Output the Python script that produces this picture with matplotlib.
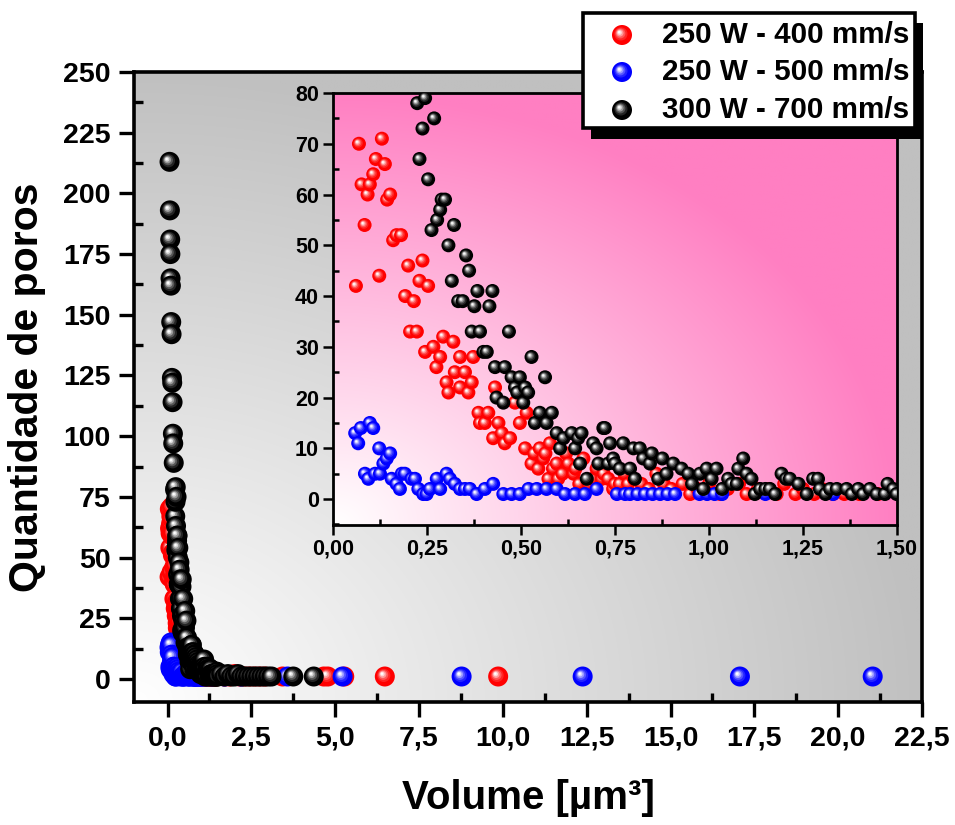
import numpy as np
import matplotlib
matplotlib.use("Agg")
import matplotlib.pyplot as plt
import matplotlib.colors as mcolors
from matplotlib.patches import Rectangle
from matplotlib.ticker import MultipleLocator, FuncFormatter

plt.rcParams['font.family'] = ['Liberation Sans', 'DejaVu Sans']
plt.rcParams['font.weight'] = 'bold'

# ---------------------------------------------------------------- data
labels = ['250 W - 400 mm/s', '250 W - 500 mm/s', '300 W - 700 mm/s']
colors = ['#ff0000', '#0000ff', '#000000']

# 250 W - 400 mm/s : pore volume [um^3] and number of pores
vol_400 = [
    0.061, 0.069, 0.076, 0.084, 0.092, 0.098, 0.107, 0.114, 0.123, 0.130,
    0.138, 0.144, 0.152, 0.160, 0.169, 0.181, 0.192, 0.200, 0.205, 0.215,
    0.223, 0.230, 0.238, 0.245, 0.253, 0.267, 0.275, 0.285, 0.293, 0.302,
    0.307, 0.320, 0.324, 0.338, 0.338, 0.351, 0.360, 0.369, 0.373, 0.387,
    0.391, 0.404, 0.413, 0.426, 0.431, 0.440, 0.449, 0.457, 0.471, 0.484,
    0.497, 0.511, 0.515, 0.528, 0.535, 0.546, 0.550, 0.559, 0.565, 0.573,
    0.577, 0.585, 0.595, 0.599, 0.610, 0.620, 0.626, 0.640, 0.645, 0.655,
    0.666, 0.680, 0.690, 0.701, 0.715, 0.720, 0.732, 0.745, 0.750, 0.763,
    0.775, 0.785, 0.800, 0.820, 0.840, 0.860, 0.880, 0.900, 0.930, 0.950,
    0.970, 1.000, 1.030, 1.050, 1.080, 1.100, 1.130, 1.160, 1.180, 1.200,
    1.230, 1.250, 1.280, 1.300, 1.330, 1.360, 1.400, 1.450, 1.550, 1.700,
    1.850, 2.000, 2.150, 2.300, 2.450, 2.600, 2.750, 2.900, 3.430, 4.660,
    4.780, 5.270, 6.480, 9.860]
count_400 = [
    42, 70, 62, 54, 60, 62, 64, 67, 44, 71,
    66, 59, 60, 51, 52, 52, 40, 46, 33, 39,
    33, 43, 47, 29, 42, 30, 26, 28, 32, 23,
    21, 31, 25, 22, 28, 25, 21, 23, 28, 17,
    15, 15, 17, 12, 22, 15, 13, 11, 12, 19,
    15, 10, 17, 7, 9, 6, 10, 8, 9, 4,
    11, 6, 7, 4, 5, 9, 7, 5, 6, 3,
    8, 3, 4, 6, 4, 5, 4, 2, 3, 3,
    5, 3, 4, 3, 2, 5, 3, 2, 3, 1,
    2, 3, 1, 2, 3, 1, 2, 2, 1, 3,
    1, 2, 1, 2, 1, 1, 1, 1, 2, 1,
    1, 2, 1, 1, 1, 1, 1, 1, 1, 1,
    1, 1, 1, 1]

# 250 W - 500 mm/s
vol_500 = [
    0.059, 0.067, 0.074, 0.085, 0.094, 0.098, 0.107, 0.112, 0.123, 0.125,
    0.134, 0.143, 0.152, 0.156, 0.169, 0.178, 0.183, 0.191, 0.209, 0.218,
    0.227, 0.240, 0.249, 0.258, 0.276, 0.285, 0.302, 0.311, 0.324, 0.338,
    0.351, 0.364, 0.382, 0.404, 0.426, 0.453, 0.475, 0.497, 0.520, 0.542,
    0.568, 0.595, 0.617, 0.644, 0.670, 0.701, 0.755, 0.777, 0.790, 0.810,
    0.830, 0.850, 0.870, 0.890, 0.910, 0.975, 0.995, 1.015, 1.035, 1.150,
    1.330, 1.700, 2.200, 3.580, 5.220, 8.770, 12.380, 17.070, 21.030]
count_500 = [
    13, 11, 14, 5, 4, 15, 14, 5, 10, 5,
    7, 8, 9, 4, 3, 2, 5, 5, 4, 4,
    2, 1, 1, 2, 4, 2, 5, 4, 3, 2,
    2, 2, 1, 2, 3, 1, 1, 1, 2, 2,
    2, 2, 1, 1, 1, 2, 1, 1, 1, 1,
    1, 1, 1, 1, 1, 1, 1, 1, 1, 1,
    1, 1, 1, 1, 1, 1, 1, 1, 1]

# 300 W - 700 mm/s
vol_700 = [
    0.060, 0.070, 0.080, 0.085, 0.090, 0.100, 0.110, 0.120, 0.130, 0.140,
    0.150, 0.160, 0.170, 0.185,
    0.224, 0.230, 0.238, 0.245, 0.253, 0.262, 0.269, 0.277, 0.285, 0.289,
    0.298, 0.307, 0.316, 0.322, 0.333, 0.345, 0.354, 0.362, 0.369, 0.376,
    0.384, 0.391, 0.400, 0.409, 0.416, 0.424, 0.431, 0.435, 0.453, 0.457,
    0.468, 0.475, 0.484, 0.490, 0.497, 0.506, 0.511, 0.519, 0.528, 0.537,
    0.550, 0.564, 0.568, 0.582, 0.595, 0.604, 0.613, 0.635, 0.644, 0.652,
    0.657, 0.661, 0.675, 0.692, 0.701, 0.706, 0.719, 0.723, 0.732, 0.737,
    0.745, 0.750, 0.763, 0.772, 0.790, 0.799, 0.803, 0.816, 0.825, 0.843,
    0.848, 0.865, 0.876, 0.887, 0.905, 0.927, 0.945, 0.955, 0.976, 0.985,
    0.994, 1.007, 1.020, 1.035, 1.051, 1.060, 1.074, 1.078, 1.091, 1.100,
    1.113, 1.122, 1.136, 1.150, 1.162, 1.176, 1.193, 1.205, 1.215, 1.238,
    1.260, 1.277, 1.290, 1.295, 1.310, 1.322, 1.340, 1.366, 1.380, 1.397,
    1.410, 1.428, 1.446, 1.468, 1.475, 1.490, 1.499,
    1.600, 1.700, 1.800, 1.900, 2.000, 2.100, 2.200, 2.300, 2.400, 2.500,
    2.600, 2.700, 2.800, 2.900, 3.000, 3.100, 3.750, 4.360]
count_700 = [
    213, 193, 181, 175, 165, 162, 147, 142, 124, 122,
    114, 101, 97, 89,
    78, 67, 73, 79, 63, 53, 75, 55, 57, 59,
    59, 50, 43, 54, 39, 39, 48, 45, 33, 38,
    41, 33, 29, 29, 38, 41, 26, 20, 19, 26,
    33, 24, 22, 21, 24, 19, 22, 21, 28, 15,
    17, 24, 15, 17, 13, 10, 12, 13, 10, 12,
    7, 13, 4, 11, 10, 7, 14, 14, 7, 11,
    8, 7, 6, 11, 6, 10, 4, 10, 8, 7,
    9, 4, 8, 5, 7, 6, 5, 3, 5, 2,
    6, 4, 6, 2, 4, 3, 3, 6, 8, 5,
    4, 1, 2, 2, 2, 1, 5, 4, 4, 3,
    1, 4, 4, 2, 1, 2, 2, 2, 1, 2,
    1, 2, 1, 1, 3, 2, 1,
    2, 1, 2, 1, 1, 2, 1, 1, 1, 1,
    1, 1, 1, 1, 1, 1, 1, 1]

series = [(vol_400, count_400), (vol_500, count_500), (vol_700, count_700)]

# ---------------------------------------------------------------- helpers
W, H, DPI = 955, 825, 100
fig = plt.figure(figsize=(W / DPI, H / DPI), dpi=DPI)


def corner_gradient(ax, color, zorder=0):
    """Fill an axes with a white -> colour gradient growing from the lower-left corner."""
    n = 300
    u, v = np.meshgrid(np.linspace(0, 1, n), np.linspace(0, 1, n))
    t = np.clip(np.hypot(u, v), 0, 1)[..., None]
    c = np.array(mcolors.to_rgb(color))
    img = (1 - t) * np.ones(3) + t * c
    ax.imshow(img, extent=[0, 1, 0, 1], transform=ax.transAxes, origin='lower',
              aspect='auto', interpolation='bilinear', zorder=zorder)


BALL_LAYERS = [(1.00, 0.00), (0.66, 0.14), (0.50, 0.34), (0.36, 0.60),
               (0.23, 0.85), (0.12, 1.00)]


def draw_balls(ax, xs, ys, color, diam_px, zorder):
    """Shaded sphere markers: every ball is built from concentric discs that
    lighten toward a highlight in its upper-left part."""
    base = np.array(mcolors.to_rgb(color))
    pts = ax.transData.transform(np.column_stack([xs, ys]))
    fmin = BALL_LAYERS[-1][0]
    offs, sizes, cols = [], [], []
    for p in pts:
        for f, w in BALL_LAYERS:
            t = (1 - f) / (1 - fmin)
            offs.append(p + np.array([-0.14 * diam_px * t, 0.14 * diam_px * t]))
            sizes.append((f * diam_px * 72.0 / DPI) ** 2)
            cols.append(base * (1 - w) + np.ones(3) * w)
    offs = ax.transData.inverted().transform(np.array(offs))
    ax.scatter(offs[:, 0], offs[:, 1], s=sizes, c=cols, linewidths=0,
               zorder=zorder)


def comma(fmt):
    return FuncFormatter(lambda v, pos: (fmt % v).replace('.', ','))


# ---------------------------------------------------------------- main axes
ax = fig.add_axes([134 / W, 1 - 702 / H, (922 - 134) / W, (702 - 72) / H])
ax.set_xlim(-1.0, 22.5)
ax.set_ylim(-9.5, 250)
ax.set_autoscale_on(False)
corner_gradient(ax, '#c0c0c0')

for sp in ax.spines.values():
    sp.set_linewidth(2.6)
ax.xaxis.set_major_locator(MultipleLocator(2.5))
ax.xaxis.set_minor_locator(MultipleLocator(1.25))
ax.yaxis.set_major_locator(MultipleLocator(25))
ax.yaxis.set_minor_locator(MultipleLocator(12.5))
ax.xaxis.set_major_formatter(comma('%.1f'))
ax.yaxis.set_major_formatter(FuncFormatter(lambda v, p: '%d' % v))
ax.tick_params(which='major', direction='out', length=11, width=2.4,
               labelsize=20.5, pad=6)
ax.tick_params(which='minor', direction='in', length=6.5, width=2.4)
ax.tick_params(top=False, right=False, which='both')
ax.set_xlabel('Volume [µm³]', fontsize=29, fontweight='bold', labelpad=20)
ax.set_ylabel('Quantidade de poros', fontsize=29.5, fontweight='bold', labelpad=12)

for (xs, ys), c, z in zip(series, colors, [3, 4, 5]):
    draw_balls(ax, xs, ys, c, 20, z)

# ---------------------------------------------------------------- inset
axi = fig.add_axes([333 / W, 1 - 525 / H, (897 - 333) / W, (525 - 93) / H])
axi.set_xlim(0, 1.5)
axi.set_ylim(-5.1, 80)
axi.set_autoscale_on(False)
corner_gradient(axi, '#ff7fc2')

for sp in axi.spines.values():
    sp.set_linewidth(2.0)
axi.xaxis.set_major_locator(MultipleLocator(0.25))
axi.xaxis.set_minor_locator(MultipleLocator(0.125))
axi.yaxis.set_major_locator(MultipleLocator(10))
axi.yaxis.set_minor_locator(MultipleLocator(5))
axi.xaxis.set_major_formatter(comma('%.2f'))
axi.yaxis.set_major_formatter(FuncFormatter(lambda v, p: '%d' % v))
axi.tick_params(which='major', direction='out', length=7, width=1.8,
                labelsize=15.5, pad=3)
axi.tick_params(which='minor', direction='in', length=4.5, width=1.8)
axi.tick_params(top=False, right=False, which='both')

for (xs, ys), c, z in zip(series, colors, [3, 4, 5]):
    draw_balls(axi, xs, ys, c, 14, z)

# ---------------------------------------------------------------- legend box
lg = fig.add_axes([0, 0, 1, 1], zorder=20)
lg.set_xlim(0, W)
lg.set_ylim(H, 0)
lg.set_autoscale_on(False)
lg.axis('off')
lg.add_patch(Rectangle((591, 23), 332, 116, facecolor='black',
                       edgecolor='none', zorder=1))
lg.add_patch(Rectangle((583, 13), 332, 115, facecolor='white',
                       edgecolor='black', linewidth=2.6, zorder=2))
rows_y = [35, 72, 110]
for yy, c, lab in zip(rows_y, colors, labels):
    draw_balls(lg, [622], [yy], c, 20, 3)
    lg.text(662, yy, lab, fontsize=21.3, fontweight='bold', va='center',
            ha='left', zorder=4)

fig.savefig('out.png', dpi=DPI)
